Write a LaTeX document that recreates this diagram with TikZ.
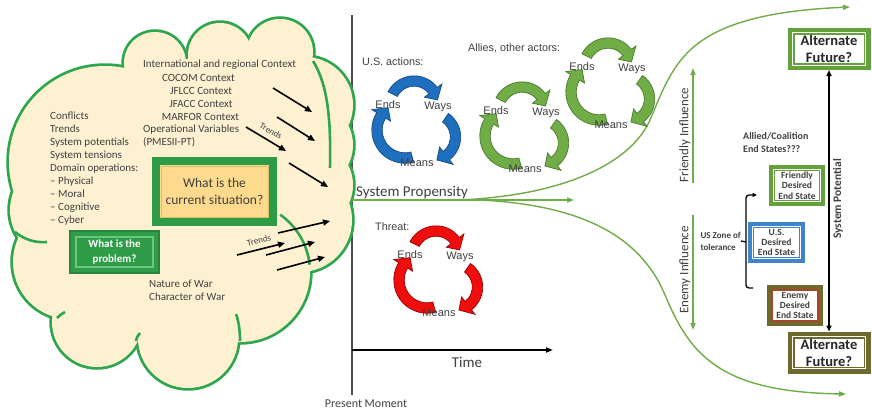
\documentclass[tikz,border=0pt]{standalone}
\usepackage{fontspec}
\setmainfont{Carlito}
\newfontfamily\arialfont{Liberation Sans}
\usetikzlibrary{arrows.meta}

\definecolor{cloudfill}{HTML}{FEF1D2}
\definecolor{cloudline}{HTML}{2EA64E}
\definecolor{ink}{HTML}{404040}
\definecolor{pathgreen}{HTML}{70AD47}
\definecolor{futuregreen}{HTML}{64A03C}
\definecolor{olivebox}{HTML}{6E6A2E}
\definecolor{enemyline}{HTML}{A8462A}
\definecolor{usblue}{HTML}{3F84C8}
\definecolor{sitfill}{HTML}{FDDA8E}
\definecolor{sitgreen}{HTML}{2E9C46}
\definecolor{sitline}{HTML}{D9BE68}
\definecolor{probfill}{HTML}{2F9C48}
\definecolor{probline}{HTML}{6CC683}
\definecolor{cycblue}{HTML}{1F6FBF}
\definecolor{cycblueedge}{HTML}{1A4C80}
\definecolor{cycgreen}{HTML}{70AD47}
\definecolor{cycgreenedge}{HTML}{4B7A2E}
\definecolor{cycred}{HTML}{EE0E0E}
\definecolor{cycrededge}{HTML}{9A0000}

% one curved block arrow: centre x, centre y, radius, start angle, end angle, style
\newcommand{\cycarrow}[6]{%
  \begin{scope}[shift={({#1},{#2})}]
    \pgfmathsetmacro\cyH{#5-600/(#3)}%
    \pgfmathsetmacro\cyO{#3+5.2}%
    \pgfmathsetmacro\cyI{#3-5.2}%
    \pgfmathsetmacro\cyHO{#3+11}%
    \pgfmathsetmacro\cyHI{#3-11}%
    \filldraw[#6] (#4:\cyO) arc[start angle=#4, end angle=\cyH, radius=\cyO]
      -- (\cyH:\cyHO) -- (#5:#3) -- (\cyH:\cyHI) -- (\cyH:\cyI)
      arc[start angle=\cyH, end angle=#4, radius=\cyI] -- cycle;
  \end{scope}}

% Ends -> Ways -> Means cycle: centre x, centre y, arrow style, name prefix
\newcommand{\eaw}[4]{%
  \cycarrow{#1}{#2-20}{24}{207}{348}{#3}
  \cycarrow{#1+18}{#2+12}{23.5}{-55}{78}{#3}
  \cycarrow{#1-9}{#2+5}{28}{75}{233}{#3}
  \node[cyclbl] (#4-ends)  at ({#1-26},{#2-20}) {Ends};
  \node[cyclbl] (#4-ways)  at ({#1+24},{#2-18}) {Ways};
  \node[cyclbl] (#4-means) at ({#1+3},{#2+38}) {Means};}

\begin{document}
\begin{tikzpicture}[x=1pt, y=-1pt,
  cloudtxt/.style={font=\fontsize{11}{13}\selectfont, text=ink, inner sep=0, anchor=base west},
  cyclbl/.style={font=\arialfont\fontsize{11}{12}\selectfont, text=ink, inner sep=0},
  actorlbl/.style={font=\arialfont\fontsize{10.8}{12}\selectfont, text=ink, inner sep=0, anchor=west},
  trendarrow/.style={black, line width=1.6, -{Triangle[length=7pt,width=6pt]}},
  trendlbl/.style={font=\fontsize{9}{10}\selectfont, text=ink, inner sep=0},
  fate/.style={draw=pathgreen, line width=1.4, -{Triangle[length=7pt,width=5pt]}},
  bluearrow/.style={fill=cycblue, draw=cycblueedge, line width=0.7},
  greenarrow/.style={fill=cycgreen, draw=cycgreenedge, line width=0.7},
  redarrow/.style={fill=cycred, draw=cycrededge, line width=0.7},
  endbox/.style={draw=#1, line width=6, fill=white, outer sep=0, minimum width=50,
    minimum height=35, inner sep=0, align=center,
    font=\bfseries\fontsize{9.5}{10.3}\selectfont, text=ink},
  futurebox/.style={draw=#1, line width=7, fill=white, outer sep=0, minimum width=76,
    minimum height=35, inner sep=0, align=center,
    font=\bfseries\fontsize{14.5}{17}\selectfont, text=black!85},
  rottxt/.style={rotate=90, font=\fontsize{13}{15}\selectfont, text=ink, inner sep=0}
]
\useasboundingbox (0,0) rectangle (872,410);
\fill[white] (0,0) rectangle (872,410);

% present-moment line
\coordinate (axTop) at (352,15);
\coordinate (axBot) at (352,395);
\draw[black!70, line width=1.1] (axTop) -- (axBot);

% ---------- the cloud: stroke every puff, then cover the inner halves ----------
\def\puffs{105/162/96, 155/63/31, 220/55/32, 280/52/33, 305/105/48, 310/145/43,
  310/185/43, 300/220/52, 240/272/70, 188/338/50, 97/322/45, 70/262/57, 60/210/50}
\foreach \cx/\cy/\cr in \puffs \draw[cloudline, line width=5.5] (\cx,\cy) circle[radius=\cr];
\fill[cloudfill] (105,162) -- (155,63) -- (220,55) -- (280,52) -- (305,105) -- (310,145)
  -- (310,185) -- (300,220) -- (240,272) -- (188,338) -- (97,322) -- (70,262) -- (60,210) -- cycle;
\foreach \cx/\cy/\cr in \puffs \fill[cloudfill] (\cx,\cy) circle[radius=\cr];
% lobe seams inside the cloud
\begin{scope}[cloudline, line width=2.6]
  \draw (240,272) ++(-55:70) arc[start angle=-55, end angle=-6, radius=70];
  \draw (15,232) .. controls (25,240) and (36,243) .. (47,242);
  \draw (313,61) .. controls (328,85) and (331,120) .. (330,168);
  \draw (236,314) .. controls (239,322) and (240,332) .. (240,341);
  \draw (57,318) .. controls (60,315) .. (65,312);
  \draw (136,341) .. controls (137,337) .. (140,333);
\end{scope}

% ---------- cloud texts ----------
\node[cloudtxt] (intl) at (143,67) {International and regional Context};
\node[cloudtxt, anchor=base] (cocom)  at (198.5,81.5) {COCOM Context};
\node[cloudtxt, anchor=base] (jflcc)  at (201,94) {JFLCC Context};
\node[cloudtxt, anchor=base] (jfacc)  at (201,107) {JFACC Context};
\node[cloudtxt, anchor=base] (marfor) at (200.5,120) {MARFOR Context};
\node[cloudtxt] (opvar) at (143,132.5) {Operational Variables};
\node[cloudtxt] (pmesii) at (143,145.5) {(PMESII-PT)};
\foreach \t [count=\i] in {Conflicts, Trends, System potentials, System tensions,
  Domain operations:, – Physical, – Moral, – Cognitive, – Cyber}
  \node[cloudtxt] (lst\i) at (50,{119.5+13*(\i-1)}) {\t};
\node[cloudtxt] (nature) at (149,287) {Nature of War};
\node[cloudtxt] (character) at (149,300.5) {Character of War};

% current situation box
\node[draw=sitgreen, line width=8, fill=sitfill, outer sep=0, minimum width=117,
  minimum height=61, inner sep=0, align=center, text=ink,
  font=\fontsize{13.5}{17}\selectfont] (situation) at (214.5,191.5) {What is the\\current situation?};
\draw[sitline, line width=1] ([shift={(5,5)}]situation.north west)
  rectangle ([shift={(-5,-5)}]situation.south east);

% problem box
\node[draw=probfill!85!black, line width=2, fill=probfill, outer sep=0, minimum width=89,
  minimum height=42, inner sep=0, align=center, text=white,
  font=\bfseries\fontsize{11}{15}\selectfont] (problem) at (114.5,252) {What is the\\problem?};
\draw[probline, line width=1.1] ([shift={(6,6)}]problem.north west)
  rectangle ([shift={(-6,-6)}]problem.south east);

% trend arrows
\foreach \n/\ax/\ay/\bx/\by in {t1/273/88/312/112, t2/277/117/315/141, t3/246/127/286/151,
  t4/289/163/328/187, u1/278/233/330/221, u2/237/255/285/243, u3/266/255/315/242,
  u4/277/270/325/257}{
  \coordinate (\n-s) at (\ax,\ay);
  \coordinate (\n-e) at (\bx,\by);
  \draw[trendarrow] (\n-s) -- (\n-e);
}
\node[trendlbl, rotate=-30] (trendsA) at (271,131) {Trends};
\node[trendlbl, rotate=14] (trendsB) at (259,240.5) {Trends};

% ---------- propensity and the futures ----------
\node[font=\fontsize{15}{17}\selectfont, text=ink, anchor=base west, inner sep=0] (prop) at (356,196) {System Propensity};
\coordinate (prop0) at (352,200);
\coordinate (propEnd) at (574,200);
\draw[fate] (prop0) -- (propEnd);
\coordinate (upA) at (458,200);
\coordinate (upEnd) at (850,7);
\draw[fate] (upA) .. controls (560,196) and (630,165) .. (650,120)
  .. controls (662,92) and (672,62) .. (700,42)
  .. controls (730,20) and (780,10) .. (upEnd);
\coordinate (dnA) at (480,200);
\coordinate (dnEnd) at (846,394);
\draw[fate] (dnA) .. controls (580,205) and (640,235) .. (665,295)
  .. controls (690,355) and (720,392) .. (dnEnd);

% time axis
\coordinate (t0) at (352,350);
\coordinate (t1) at (553,350);
\draw[black, line width=1.8, -{Triangle[length=7pt,width=5pt]}] (t0) -- (t1);
\node[font=\fontsize{15}{17}\selectfont, text=ink, anchor=base, inner sep=0] (time) at (467,367.5) {Time};
\node[font=\fontsize{12}{14}\selectfont, text=ink, anchor=base, inner sep=0] (present) at (366,407) {Present Moment};

% ---------- actors ----------
\node[actorlbl] (usact) at (362,62) {U.S. actions:};
\node[actorlbl] (allies) at (468,48) {Allies, other actors:};
\node[actorlbl] (threat) at (375,227) {Threat:};
\eaw{414}{125}{bluearrow}{us}
\eaw{522}{131}{greenarrow}{allyA}
\eaw{608}{87}{greenarrow}{allyB}
\eaw{436}{275}{redarrow}{threat}

% ---------- influences ----------
\coordinate (frA) at (693,183);
\coordinate (frB) at (693,68);
\draw[fate, line width=1.3] (frA) -- (frB);
\node[rottxt] (friendlyInf) at (685,135) {Friendly Influence};
\coordinate (enA) at (693,215);
\coordinate (enB) at (693,330);
\draw[fate, line width=1.3] (enA) -- (enB);
\node[rottxt] (enemyInf) at (685,270) {Enemy Influence};

% ---------- end states ----------
\node[font=\bfseries\fontsize{10}{13.5}\selectfont, text=ink, align=left, anchor=north west,
  inner sep=0] (allied) at (743,132) {Allied/Coalition\\End States???};

\node[futurebox=futuregreen] (futTop) at (829,49) {Alternate\\Future?};
\node[futurebox=olivebox] (futBot) at (829,352.5) {Alternate\\Future?};
\foreach \b in {futTop,futBot}
  \draw[white, line width=1] ([shift={(1.3,1.3)}]\b.north west) rectangle ([shift={(-1.3,-1.3)}]\b.south east);

\node[endbox=futuregreen] (friendly) at (797,185.5) {Friendly\\Desired\\End State};
\node[endbox=usblue, minimum width=51] (usdes) at (776.5,242.5) {U.S.\\Desired\\End State};
\node[endbox=olivebox] (enemy) at (795,305.5) {Enemy\\Desired\\End State};
\foreach \b in {friendly,usdes}
  \draw[white, line width=1] ([shift={(1.2,1.2)}]\b.north west) rectangle ([shift={(-1.2,-1.2)}]\b.south east);
\draw[enemyline, line width=1.5] ([shift={(2.2,2.2)}]enemy.north west) rectangle ([shift={(-2.2,-2.2)}]enemy.south east);

\draw[black, line width=1.6, {Triangle[length=6pt,width=5pt]}-{Triangle[length=6pt,width=5pt]},
  shorten <=3.5pt, shorten >=3.5pt] (futTop.south) -- (futBot.north);
\node[rotate=90, font=\bfseries\fontsize{11.5}{13}\selectfont, text=ink, inner sep=0] (syspot) at (838,199) {System Potential};

% zone of tolerance bracket
\node[font=\bfseries\fontsize{9}{12}\selectfont, text=ink, align=left, anchor=east, inner sep=0] (zone) at (741,241) {US Zone of\\tolerance};
\coordinate (brTop) at (757,195);
\coordinate (brBot) at (753,288);
\coordinate (brMid) at (746,242);
\draw[black, line width=1.3, rounded corners=3, -{Triangle[length=4.5pt,width=4pt]}]
  (brBot) -- (746,288) -- (746,195) -- (brTop);
\draw[black, line width=1.3] (brMid) -- (zone.east);
\end{tikzpicture}
\end{document}
